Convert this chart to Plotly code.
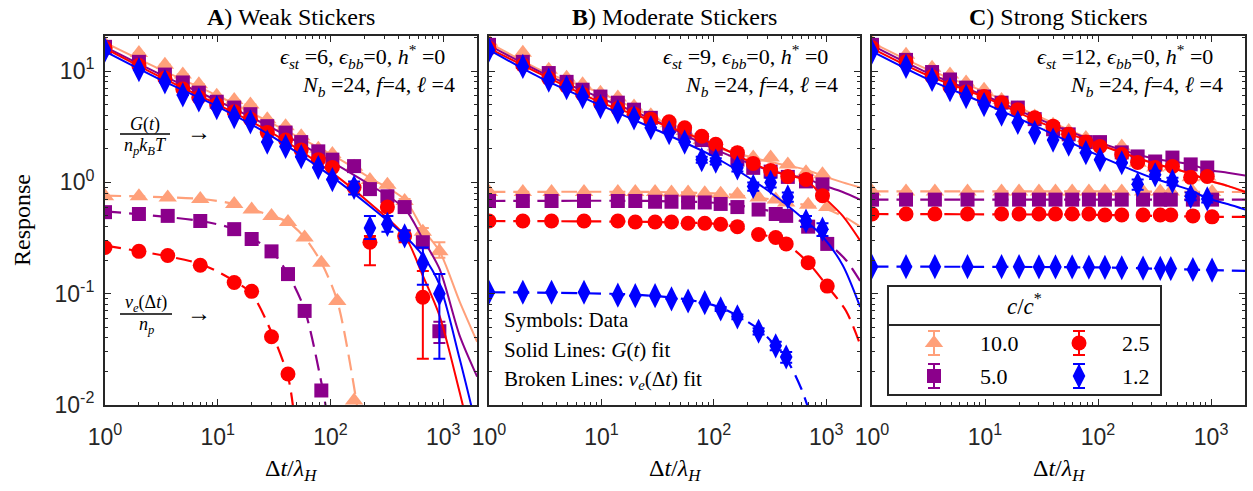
import plotly.graph_objects as go

W, H = 1253, 491

# ---------------------------------------------------------------- data ----
# sampling times (Δt/λ_H) of the stress-relaxation data and of ν_e data
T_G = [1, 2, 3.4, 4.9, 6.8, 9.8, 14, 19.5, 27.5, 40, 55, 78, 104, 162, 224, 320, 455, 660, 925]
T_NU = [1, 2, 3.6, 7, 14, 20, 30, 42, 59, 83, 115, 162, 250, 355, 440, 690, 1020]

CONC = ["10.0", "5.0", "2.5", "1.2"]
COLORS = ["#FFA07A", "#8B008B", "#FF0000", "#0000FF"]
SYMBOLS = ["triangle-up", "square", "circle", "diamond-tall"]
SIZES = [16, 14, 15, 18]

TICK_VALS = [1, 10, 100, 1000]
TICK_TEXT = ["10<sup>0</sup>", "10<sup>1</sup>", "10<sup>2</sup>", "10<sup>3</sup>"]
YTICK_VALS = [0.01, 0.1, 1, 10]
YTICK_TEXT = ["10<sup>-2</sup>", "10<sup>-1</sup>", "10<sup>0</sup>", "10<sup>1</sup>"]

# ---- panel A: weak stickers (eps_st = 6)
G_A_100 = [17.5, 14.5, 11.4, 9.3, 7.6, 6.0, 5.5, 5.0, 3.7, 3.2, 2.6, 2.0, 1.8, 1.38, 1.05, 0.95, 0.68, 0.36, 0.24]
G_A_50 = [16.5, 12.1, 9.3, 7.9, 6.4, 5.3, 4.7, 4.1, 3.2, 2.8, 2.3, 1.9, 1.6, 1.4, 0.87, 0.75, 0.60, 0.29, 0.046]
G_A_25 = [16.0, 11.2, 8.6, 6.9, 5.8, 5.0, 4.3, 3.7, 2.8, 2.4, 1.95, 1.6, 1.36, 0.90, 0.29, 0.60, 0.33, 0.093, None]
G_A_12 = [15.5, 10.3, 8.0, 6.1, 5.5, 4.7, 3.9, 3.5, 2.3, 2.1, 1.7, 1.36, 1.06, 0.90, 0.39, 0.42, 0.33, 0.19, 0.10]

GE_A_100_HI = [0, 0, 0, 0, 0, 0, 0, 0, 0, 0, 0, 0, 0, 0, 0, 0, 0.03, 0.03, 0.05]
GE_A_100_LO = [0, 0, 0, 0, 0, 0, 0, 0, 0, 0, 0, 0, 0, 0, 0, 0, 0.03, 0.03, 0.03]
GE_A_50_HI = [0, 0, 0, 0, 0, 0, 0, 0, 0, 0, 0, 0, 0, 0, 0, 0, 0, 0.02, 0.01]
GE_A_50_LO = [0, 0, 0, 0, 0, 0, 0, 0, 0, 0, 0, 0, 0, 0, 0, 0, 0, 0.02, 0.01]
GE_A_25_HI = [0, 0, 0, 0, 0, 0, 0, 0, 0, 0, 0, 0, 0, 0.05, 0.04, 0.05, 0.04, 0.067, 0]
GE_A_25_LO = [0, 0, 0, 0, 0, 0, 0, 0, 0, 0, 0, 0, 0, 0.05, 0.11, 0.05, 0.04, 0.067, 0]
GE_A_12_HI = [0, 0, 0, 0, 0, 0, 0, 0, 0, 0, 0, 0, 0, 0.12, 0.11, 0.08, 0.04, 0.07, 0.05]
GE_A_12_LO = [0, 0, 0, 0, 0, 0, 0, 0, 0, 0, 0, 0, 0, 0.12, 0.08, 0.06, 0.03, 0.07, 0.074]

NU_A_100 = [0.75, 0.75, 0.73, 0.71, 0.64, 0.57, 0.50, 0.44, 0.32, 0.19, 0.086, 0.011]
NU_A_50 = [0.54, 0.52, 0.50, 0.45, 0.38, 0.31, 0.24, 0.15, 0.07, 0.0135]
NU_A_25 = [0.26, 0.24, 0.22, 0.18, 0.126, 0.105, 0.041, 0.019]

# G(t) fit curves of panel A, sampled at common knots
GFIT_T_A = [1, 3, 10, 30, 100, 224, 457, 660, 930, 1400, 2000]
GFIT_A_100 = [18, 10.5, 6.0, 3.4, 1.8, 1.1, 0.70, 0.38, 0.24, 0.085, 0.037]
GFIT_A_50 = [16.5, 9.5, 5.4, 3.1, 1.55, 0.95, 0.58, 0.31, 0.166, 0.042, 0.018]
GFIT_A_25 = [16, 9.0, 5.0, 2.8, 1.25, 0.65, 0.33, 0.145, 0.063, 0.013, 0.003]
GFIT_A_12 = [15, 8.5, 4.8, 2.6, 1.15, 0.61, 0.33, 0.22, 0.12, 0.026, 0.006]

# ν_e(Δt) fit curves of panel A
NUFIT_A_100_T = [1, 7, 14, 30, 42, 59, 83, 115, 172]
NUFIT_A_100 = [0.76, 0.71, 0.64, 0.50, 0.44, 0.32, 0.19, 0.086, 0.01]
NUFIT_A_50_T = [1, 7, 14, 30, 42, 59, 83, 92]
NUFIT_A_50 = [0.55, 0.45, 0.38, 0.24, 0.15, 0.072, 0.016, 0.009]
NUFIT_A_25_T = [1, 7, 14, 20, 30, 42, 47]
NUFIT_A_25 = [0.27, 0.185, 0.13, 0.10, 0.045, 0.018, 0.009]

# ---- panel B: moderate stickers (eps_st = 9)
G_B_100 = [18.3, 14.6, 10.3, 8.7, 7.6, 6.4, 5.8, 4.8, 4.0, 3.4, 2.9, 2.4, 2.1, 1.85, 1.67, 1.67, 1.45, 1.23, 1.18]
G_B_50 = [17.2, 12.1, 9.6, 8.0, 6.8, 5.9, 5.2, 4.5, 3.8, 3.2, 2.8, 2.4, 2.0, 1.6, 1.35, 1.25, 1.12, 1.02, 0.96]
G_B_25 = [16.0, 11.3, 8.6, 7.3, 6.2, 5.1, 4.6, 4.1, 3.7, 3.5, 3.1, 2.6, 2.2, 1.85, 1.48, 1.28, 1.13, 1.06, 0.76]
G_B_12 = [15.5, 11.0, 8.3, 7.1, 5.9, 4.8, 4.3, 3.8, 3.1, 2.8, 2.3, 1.6, 1.55, 1.35, 0.92, 1.0, 0.74, 0.45, 0.38]

GE_B_12_HI = [0, 0, 0, 0, 0, 0, 0, 0, 0, 0, 0, 0.1, 0.1, 0.1, 0.08, 0.1, 0.07, 0.05, 0.05]
GE_B_12_LO = [0, 0, 0, 0, 0, 0, 0, 0, 0, 0, 0, 0.1, 0.1, 0.1, 0.08, 0.1, 0.07, 0.05, 0.05]
GE_B_25_HI = [0, 0, 0, 0, 0, 0, 0, 0, 0, 0, 0, 0, 0, 0, 0.06, 0.06, 0.05, 0.05, 0.05]
GE_B_25_LO = [0, 0, 0, 0, 0, 0, 0, 0, 0, 0, 0, 0, 0, 0, 0.06, 0.06, 0.05, 0.05, 0.05]

NU_B_100 = [0.82, 0.82, 0.82, 0.82, 0.82, 0.82, 0.82, 0.81, 0.81, 0.80, 0.79, 0.78, 0.73, 0.70, 0.66, 0.63, 0.60]
NU_B_50 = [0.68, 0.68, 0.68, 0.68, 0.68, 0.68, 0.67, 0.67, 0.66, 0.66, 0.64, 0.60, 0.57, 0.52, 0.50, 0.40, 0.28]
NU_B_25 = [0.45, 0.45, 0.45, 0.45, 0.45, 0.44, 0.44, 0.44, 0.43, 0.43, 0.42, 0.40, 0.34, 0.32, 0.28, 0.19, 0.117]
NU_B_12 = [0.103, 0.103, 0.103, 0.103, 0.097, 0.096, 0.096, 0.090, 0.086, 0.083, 0.073, 0.062, 0.046, 0.034, 0.027]
NUE_B_12 = [0, 0, 0, 0, 0, 0, 0, 0, 0, 0, 0.003, 0.003, 0.003, 0.003, 0.003]

GFIT_T_BC = [1, 3, 10, 30, 100, 300, 660, 920, 1400, 2000]
GFIT_B_100 = [18, 10, 6.3, 3.8, 2.1, 1.55, 1.3, 1.15, 1.0, 0.90]
GFIT_B_50 = [17, 9.6, 5.7, 3.6, 2.0, 1.3, 1.08, 0.95, 0.82, 0.70]
GFIT_B_25 = [16, 9.2, 5.2, 3.5, 2.2, 1.3, 1.04, 0.76, 0.5, 0.30]
GFIT_B_12 = [15.5, 8.5, 4.9, 3.0, 1.7, 0.85, 0.45, 0.33, 0.18, 0.076]

NUFIT_B_T = [1, 30, 115, 250, 440, 690, 1020, 1500, 2000]
NUFIT_B_100 = [0.82, 0.82, 0.79, 0.73, 0.67, 0.62, 0.57, 0.48, 0.40]
NUFIT_B_50 = [0.68, 0.68, 0.65, 0.58, 0.51, 0.41, 0.29, 0.20, 0.13]
NUFIT_B_25 = [0.45, 0.44, 0.42, 0.35, 0.28, 0.19, 0.117, 0.07, 0.035]
NUFIT_B_12_T = [1, 20, 60, 115, 250, 440, 600, 700]
NUFIT_B_12 = [0.103, 0.098, 0.088, 0.075, 0.048, 0.026, 0.014, 0.009]

# ---- panel C: strong stickers (eps_st = 12)
G_C_100 = [18, 14, 10.7, 9.3, 7.9, 6.8, 5.5, 4.6, 3.9, 3.3, 2.9, 2.5, 2.25, 2.1, 1.5, 1.36, 1.39, 1.11, 1.13]
G_C_50 = [17.2, 12.6, 9.8, 8.4, 7.1, 5.9, 5.2, 4.7, 3.7, 3.0, 2.7, 2.3, 2.3, 1.86, 1.71, 1.54, 1.67, 1.45, 1.36]
G_C_25 = [16.2, 12.1, 8.9, 7.2, 6.5, 5.9, 5.2, 4.5, 3.8, 3.2, 2.7, 2.3, 2.1, 1.78, 1.51, 1.36, 1.39, 1.11, 1.13]
G_C_12 = [14.9, 11.0, 8.4, 6.8, 5.9, 5.0, 4.1, 3.45, 2.8, 2.4, 2.2, 1.85, 1.6, 1.5, 0.96, 1.17, 1.02, 0.75, 0.71]

GE_C_12_HI = [0, 0, 0, 0, 0, 0, 0, 0, 0, 0, 0, 0, 0, 0, 0.1, 0.1, 0.08, 0.06, 0.05]
GE_C_12_LO = [0, 0, 0, 0, 0, 0, 0, 0, 0, 0, 0, 0, 0, 0, 0.1, 0.1, 0.08, 0.06, 0.05]

NU_C_100 = [0.83, 0.83, 0.83, 0.83, 0.83, 0.83, 0.83, 0.83, 0.83, 0.83, 0.83, 0.83, 0.83, 0.83, 0.83, 0.82, 0.82]
NU_C_50 = [0.70, 0.70, 0.70, 0.70, 0.70, 0.70, 0.70, 0.70, 0.70, 0.70, 0.70, 0.70, 0.70, 0.70, 0.70, 0.70, 0.70]
NU_C_25 = [0.52, 0.52, 0.52, 0.52, 0.52, 0.52, 0.52, 0.52, 0.52, 0.52, 0.51, 0.51, 0.51, 0.51, 0.51, 0.50, 0.49]
NU_C_12 = [0.175, 0.175, 0.175, 0.175, 0.175, 0.175, 0.174, 0.174, 0.174, 0.173, 0.172, 0.171, 0.170, 0.169, 0.168, 0.165, 0.163]

GFIT_C_100 = [18, 10.5, 6.5, 3.9, 2.3, 1.5, 1.2, 1.05, 0.93, 0.83]
GFIT_C_50 = [17, 9.8, 6.0, 3.7, 2.3, 1.65, 1.45, 1.3, 1.22, 1.15]
GFIT_C_25 = [16, 9.3, 5.8, 3.5, 2.2, 1.5, 1.2, 1.05, 0.93, 0.82]
GFIT_C_12 = [15, 8.6, 5.1, 3.1, 1.75, 1.1, 0.85, 0.72, 0.64, 0.57]

NUFIT_C_T = [1, 100, 1000, 2000]
NUFIT_C_100 = [0.83, 0.83, 0.82, 0.82]
NUFIT_C_50 = [0.70, 0.70, 0.70, 0.70]
NUFIT_C_25 = [0.52, 0.51, 0.49, 0.49]
NUFIT_C_12 = [0.175, 0.172, 0.163, 0.16]

# ---------------------------------------------------------------- layout --
AXIS_COLOR = "#262626"
SERIF = "Liberation Serif"
SANS = "Liberation Sans"

# panel frames in pixels: (left, right); shared top / bottom
PANEL_X = [(105, 477), (489, 860), (872, 1245)]
TOP, BOTTOM = 36, 405


def px(x):
    return x / W


def py(y):
    return 1 - y / H


panels = [
    dict(
        g=[G_A_100, G_A_50, G_A_25, G_A_12],
        ge=[(GE_A_100_HI, GE_A_100_LO), (GE_A_50_HI, GE_A_50_LO),
            (GE_A_25_HI, GE_A_25_LO), (GE_A_12_HI, GE_A_12_LO)],
        nu=[NU_A_100, NU_A_50, NU_A_25, None],
        nue=[None, None, None, None],
        gfit=[(GFIT_T_A, GFIT_A_100), (GFIT_T_A, GFIT_A_50), (GFIT_T_A, GFIT_A_25), (GFIT_T_A, GFIT_A_12)],
        nufit=[(NUFIT_A_100_T, NUFIT_A_100), (NUFIT_A_50_T, NUFIT_A_50), (NUFIT_A_25_T, NUFIT_A_25), None],
    ),
    dict(
        g=[G_B_100, G_B_50, G_B_25, G_B_12],
        ge=[None, None, (GE_B_25_HI, GE_B_25_LO), (GE_B_12_HI, GE_B_12_LO)],
        nu=[NU_B_100, NU_B_50, NU_B_25, NU_B_12],
        nue=[None, None, None, NUE_B_12],
        gfit=[(GFIT_T_BC, GFIT_B_100), (GFIT_T_BC, GFIT_B_50), (GFIT_T_BC, GFIT_B_25), (GFIT_T_BC, GFIT_B_12)],
        nufit=[(NUFIT_B_T, NUFIT_B_100), (NUFIT_B_T, NUFIT_B_50), (NUFIT_B_T, NUFIT_B_25), (NUFIT_B_12_T, NUFIT_B_12)],
    ),
    dict(
        g=[G_C_100, G_C_50, G_C_25, G_C_12],
        ge=[None, None, None, (GE_C_12_HI, GE_C_12_LO)],
        nu=[NU_C_100, NU_C_50, NU_C_25, NU_C_12],
        nue=[None, None, None, None],
        gfit=[(GFIT_T_BC, GFIT_C_100), (GFIT_T_BC, GFIT_C_50), (GFIT_T_BC, GFIT_C_25), (GFIT_T_BC, GFIT_C_12)],
        nufit=[(NUFIT_C_T, NUFIT_C_100), (NUFIT_C_T, NUFIT_C_50), (NUFIT_C_T, NUFIT_C_25), (NUFIT_C_T, NUFIT_C_12)],
    ),
]

fig = go.Figure()

for p, panel in enumerate(panels):
    xa = "x" if p == 0 else f"x{p + 1}"
    ya = "y" if p == 0 else f"y{p + 1}"
    for i in range(4):
        col = COLORS[i]
        # fitted curves
        ft, fy = panel["gfit"][i]
        fig.add_trace(go.Scatter(x=ft, y=fy, mode="lines", xaxis=xa, yaxis=ya,
                                 line=dict(color=col, width=2, shape="spline", smoothing=0.8),
                                 showlegend=False, hoverinfo="skip"))
        if panel["nufit"][i] is not None:
            nt, ny = panel["nufit"][i]
            fig.add_trace(go.Scatter(x=nt, y=ny, mode="lines", xaxis=xa, yaxis=ya,
                                     line=dict(color=col, width=2.2, dash="16px,8px",
                                               shape="spline", smoothing=0.8),
                                     showlegend=False, hoverinfo="skip"))
        # data: G(t)
        err = panel["ge"][i]
        ey = None
        if err is not None:
            ey = dict(type="data", symmetric=False, array=err[0], arrayminus=err[1],
                      color=col, thickness=2, width=6)
        fig.add_trace(go.Scatter(x=T_G, y=panel["g"][i], mode="markers", xaxis=xa, yaxis=ya,
                                 marker=dict(symbol=SYMBOLS[i], size=SIZES[i], color=col,
                                             line=dict(width=0)),
                                 error_y=ey, showlegend=False))
        # data: ν_e(Δt)
        if panel["nu"][i] is not None:
            nv = panel["nu"][i]
            ne = panel["nue"][i]
            eyn = None
            if ne is not None:
                eyn = dict(type="data", array=ne, color=col, thickness=2, width=6)
            fig.add_trace(go.Scatter(x=T_NU[:len(nv)], y=nv, mode="markers", xaxis=xa, yaxis=ya,
                                     marker=dict(symbol=SYMBOLS[i], size=SIZES[i], color=col,
                                                 line=dict(width=0)),
                                     error_y=eyn, showlegend=False))

# legend glyphs, placed on a pixel-scaled helper axis spanning the figure
LEG_X = [934, 1079, 934, 1079]
LEG_Y = [343, 343, 376, 376]
LEG_ORDER = [0, 2, 1, 3]
for k, i in enumerate(LEG_ORDER):
    fig.add_trace(go.Scatter(x=[LEG_X[k]], y=[LEG_Y[k]], mode="markers", xaxis="x4", yaxis="y4",
                             marker=dict(symbol=SYMBOLS[i], size=SIZES[i], color=COLORS[i],
                                         line=dict(width=0)),
                             error_y=dict(type="data", array=[12], color=COLORS[i], thickness=2, width=6),
                             showlegend=False, cliponaxis=False, hoverinfo="skip"))


def log_axis(domain, rng, vals, texts, labels=True, standoff=0):
    return dict(
        type="log", domain=domain, range=rng, tickmode="array", tickvals=vals, ticktext=texts,
        showline=True, linecolor=AXIS_COLOR, linewidth=2, mirror="allticks",
        ticks="inside", ticklen=6, tickwidth=1.3, tickcolor=AXIS_COLOR, automargin=False,
        showgrid=False, zeroline=False, showticklabels=labels, ticklabelstandoff=standoff,
        tickfont=dict(family=SANS, size=23, color=AXIS_COLOR),
        minor=dict(ticks="inside", ticklen=3, tickwidth=1, tickcolor=AXIS_COLOR,
                   dtick="D1", showgrid=False),
    )


ydom = [py(BOTTOM), py(TOP)]
XR = [0, 3.3]
YR = [-2, 1.315]
layout = dict(
    width=W, height=H, margin=dict(l=0, r=0, t=0, b=0, autoexpand=False),
    paper_bgcolor="white", plot_bgcolor="rgba(0,0,0,0)", showlegend=False,
    xaxis4=dict(domain=[0, 1], range=[0, W], visible=False, anchor="y4", fixedrange=True,
                automargin=False),
    yaxis4=dict(domain=[0, 1], range=[H, 0], visible=False, anchor="x4", fixedrange=True,
                automargin=False),
)
for p, (l, r) in enumerate(PANEL_X):
    sfx = "" if p == 0 else str(p + 1)
    xd = log_axis([px(l), px(r)], XR, TICK_VALS, TICK_TEXT, standoff=10)
    xd["anchor"] = "y" + sfx
    yd = log_axis(ydom, YR, YTICK_VALS, YTICK_TEXT, labels=(p == 0), standoff=4)
    yd["anchor"] = "x" + sfx
    layout["xaxis" + sfx] = xd
    layout["yaxis" + sfx] = yd

fig.update_layout(**layout)

# ---------------------------------------------------------------- text ----
ann = []


def text(x, y, s, size=20, xanchor="center", family=SERIF, angle=0):
    ann.append(dict(x=px(x), y=py(y), xref="paper", yref="paper", text=s, showarrow=False,
                    xanchor=xanchor, yanchor="middle", textangle=angle,
                    font=dict(family=family, size=size, color="black")))


TITLES = ["<b>A</b>) Weak Stickers", "<b>B</b>) Moderate Stickers", "<b>C</b>) Strong Stickers"]
EPS = ["6", "9", "12"]
for p, (l, r) in enumerate(PANEL_X):
    text((l + r) / 2, 17, TITLES[p], size=24)
    text((l + r) / 2, 470, "Δ<i>t</i>/<i>λ</i><sub><i>H</i></sub>", size=24)
    text(r - 30, 56, f"<i>ϵ</i><sub><i>st</i></sub> ={EPS[p]}, <i>ϵ</i><sub><i>bb</i></sub>=0, "
                     f"<i>h</i><sup>*</sup> =0", size=22, xanchor="right")
    text(r - 20, 86, "<i>N</i><sub><i>b</i></sub> =24, <i>f</i>=4, <i>ℓ</i> =4", size=22, xanchor="right")

text(22, 220, "Response", size=24, angle=-90)

# fraction labels in panel A
text(145, 124, "<i>G</i>(<i>t</i>)", size=18)
text(145, 146, "<i>n</i><sub><i>p</i></sub><i>k</i><sub><i>B</i></sub><i>T</i>", size=18)
text(199, 132, "→", size=24)
text(146, 303, "<i>ν</i><sub><i>e</i></sub>(Δ<i>t</i>)", size=18)
text(146, 325, "<i>n</i><sub><i>p</i></sub>", size=18)
text(199, 313, "→", size=24)

# key text in panel B
text(502, 320, "Symbols: Data", size=21, xanchor="left")
text(502, 350, "Solid Lines: <i>G</i>(<i>t</i>) fit", size=21, xanchor="left")
text(502, 380, "Broken Lines: <i>ν</i><sub><i>e</i></sub>(Δ<i>t</i>) fit", size=21, xanchor="left")

# legend text
text(1024, 304, "<i>c</i>/<i>c</i><sup>*</sup>", size=23)
LEG_TX = [978, 1120, 978, 1120]
for k, i in enumerate(LEG_ORDER):
    text(LEG_TX[k], LEG_Y[k], CONC[i], size=22, xanchor="left")

shapes = [
    dict(type="line", xref="paper", yref="paper", x0=px(120), x1=px(170), y0=py(134), y1=py(134),
         line=dict(color="black", width=1.3)),
    dict(type="line", xref="paper", yref="paper", x0=px(120), x1=px(172), y0=py(314), y1=py(314),
         line=dict(color="black", width=1.3)),
    dict(type="rect", xref="paper", yref="paper", x0=px(888), x1=px(1161), y0=py(286), y1=py(395),
         line=dict(color=AXIS_COLOR, width=2), fillcolor="rgba(0,0,0,0)", layer="above"),
    dict(type="line", xref="paper", yref="paper", x0=px(888), x1=px(1161), y0=py(325), y1=py(325),
         line=dict(color=AXIS_COLOR, width=2)),
]

fig.update_layout(annotations=ann, shapes=shapes)
fig.write_html("out.html")
